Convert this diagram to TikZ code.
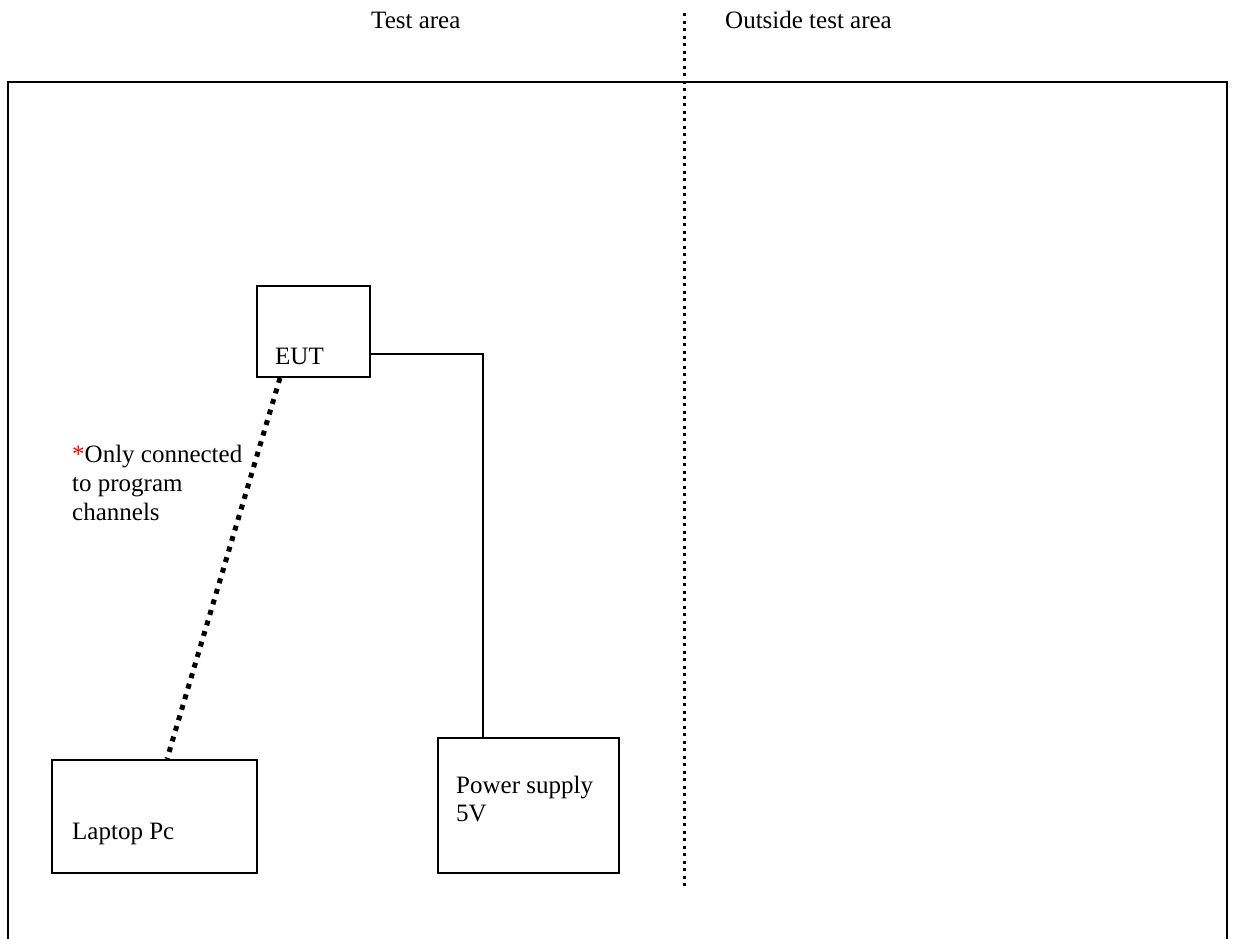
\documentclass[tikz,border=0pt]{standalone}
\usepackage{fontspec}
\setmainfont{Liberation Serif}
\begin{document}
\begin{tikzpicture}[x=1pt,y=-1pt,
  box/.style={draw,line width=2pt,minimum width=#1,inner sep=0pt},
  txt/.style={anchor=base west,inner sep=0pt,font=\fontsize{25}{29}\selectfont},
  fine/.style={line width=1.6pt},
  vdots/.style={line width=3pt,dash pattern=on 3pt off 4.5pt},
  ddots/.style={line width=5pt,dash pattern=on 5pt off 6pt}]
\useasboundingbox (0,0) rectangle (1235,938);
% outer frame (bottom edge outside the picture)
\coordinate (fbl) at (8,945);
\coordinate (ftl) at (8,82);
\coordinate (ftr) at (1227,82);
\coordinate (fbr) at (1227,945);
\draw[line width=2pt] (fbl) -- (ftl) -- (ftr) -- (fbr);
% divider
\coordinate (dv1) at (684,13);
\coordinate (dv2) at (684,889);
\draw[vdots] (dv1) -- (dv2);
% headings
\node[txt] (ta) at (371,28) {Test area};
\node[txt] (ota) at (725,28) {Outside test area};
% boxes
\node[box=113pt,minimum height=91pt] (eut) at (313.5,331.5) {};
\node[box=181pt,minimum height=135pt] (psu) at (528.5,805.5) {};
\node[box=205pt,minimum height=113pt] (lap) at (154.5,816.5) {};
\node[txt] (eutt) at (275,364) {EUT};
\node[txt] (psut) at (456,793) {Power supply};
\node[txt] (psuv) at (456,821) {5V};
\node[txt] (lapt) at (72,839) {Laptop Pc};
% power connection
\coordinate (pc1) at (370,354);
\coordinate (pc2) at (483,738);
\draw[fine] (eut.east |- pc1) -- (pc1 -| pc2) -- (psu.north -| pc2);
% programming link
\coordinate (pl1) at (280,379);
\coordinate (pl2) at (167,759);
\draw[ddots] (eut.south -| pl1) -- (lap.north -| pl2);
% note
\node[txt] (n1) at (72,462) {\textcolor{red}{*}Only connected};
\node[txt] (n2) at (72,491) {to program};
\node[txt] (n3) at (72,520) {channels};
\end{tikzpicture}
\end{document}
